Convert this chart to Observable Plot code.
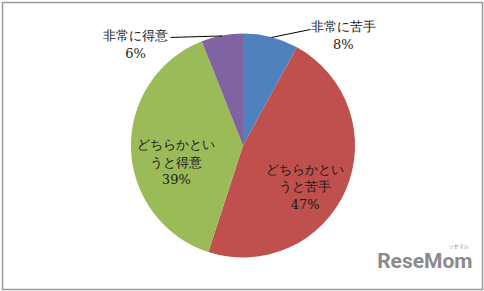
<!DOCTYPE html>
<html><head><meta charset="utf-8">
<script src="https://cdn.jsdelivr.net/npm/d3@7"></script>
<script src="https://cdn.jsdelivr.net/npm/@observablehq/plot@0.6"></script>
<style>body{margin:0;background:#fff}</style>
</head><body><div id="chart"></div>
<script>
// ---- data ----
const categories = ["非常に苦手", "どちらかというと苦手", "どちらかというと得意", "非常に得意"];
const labelTexts = ["非常に苦手", "どちらかとい\nうと苦手", "どちらかとい\nうと得意", "非常に得意"];
const values = [8, 47, 39, 6];
const colors = ["#4F81BD", "#C0504D", "#9BBB59", "#8064A2"];
const outsideLabel = [true, false, false, true];

// ---- layout / style ----
const W = 484, H = 291;
const cx = W / 2 + 1, cy = H / 2, R = H * 0.385;
const innerK = 0.6, innerShift = 13;
const font = "'DejaVu Serif', 'Liberation Serif', serif";

const rows = categories.map((c, i) => ({category: c, label: labelTexts[i], value: values[i], outside: outsideLabel[i]}));
const arcs = d3.pie().sort(null).value(d => d.value)(rows);
const colorOf = d3.scaleOrdinal(categories, colors);

const pt = (a, r) => [cx + r * Math.sin(a), cy - r * Math.cos(a)];

const labels = arcs.map(a => {
  const mid = (a.startAngle + a.endAngle) / 2;
  const text = a.data.label + "\n" + a.data.value + "%";
  if (!a.data.outside) {
    const [x, y] = pt(mid, R * innerK);
    return {text, x, y: y + innerShift, outside: false};
  }
  const [ex, ey] = pt(mid, R);
  const right = Math.sin(mid) > 0;
  const lx = ex + (right ? 39 : -52), ly = ey + (right ? -8 : 1.5);
  return {text, ex, ey, lx, ly, x: lx + (right ? 33 : -35), y: ly + (right ? 5 : 6), outside: true};
});

function pieMark(index, scales, values, dims) {
  const g = d3.create("svg:g")
    .attr("transform", `translate(${scales.x(cx)},${scales.y(cy)})`);
  const arc = d3.arc().innerRadius(0).outerRadius(R);
  g.selectAll("path").data(arcs).join("path")
    .attr("d", arc)
    .attr("fill", d => colorOf(d.data.category));
  return g.node();
}

const chart = Plot.plot({
  width: W, height: H, margin: 0,
  x: {domain: [0, W], range: [0, W], axis: null},
  y: {domain: [0, H], range: [0, H], axis: null},
  style: {background: "#fff"},
  marks: [
    Plot.frame({stroke: "#9a9a9a", strokeWidth: 1.5, inset: 2}),
    pieMark,
    Plot.link(labels.filter(d => d.outside), {x1: "ex", y1: "ey", x2: "lx", y2: "ly", stroke: "#000", strokeWidth: 1}),
    Plot.text(labels, {x: "x", y: "y", text: "text", fontSize: 13, lineHeight: 1.35,
      fontFamily: font, fill: "#1a1a1a", textAnchor: "middle", lineAnchor: "middle"}),
    Plot.text(["ReseMom"], {frameAnchor: "bottom-right", dx: -12, dy: -24, fontSize: 21, fontWeight: "bold",
      fontFamily: "Roboto, 'DejaVu Sans', sans-serif", fill: "#8a8a8a", lineAnchor: "bottom", textAnchor: "end"}),
    Plot.text(["リセマム"], {frameAnchor: "bottom-right", dx: -16, dy: -44, fontSize: 5,
      fontFamily: "'Noto Sans CJK JP', sans-serif", fill: "#8a8a8a", lineAnchor: "bottom", textAnchor: "end"})
  ]
});
document.getElementById("chart").append(chart);
</script>
</body></html>
